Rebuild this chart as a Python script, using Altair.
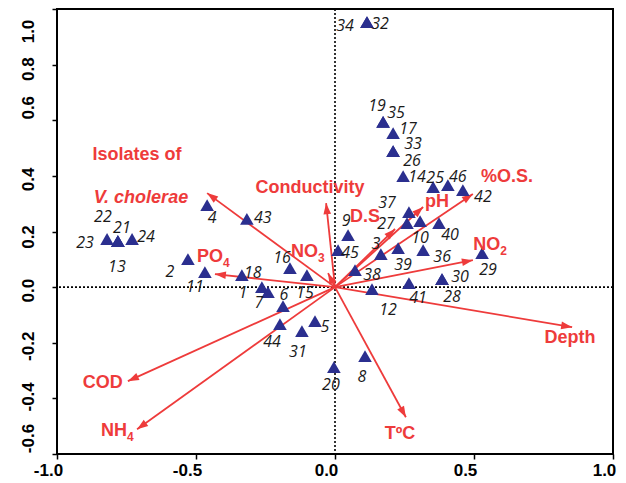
import altair as alt
import pandas as pd
import numpy as np

# ---------------- data ----------------
# sample (site) scores: id, axis-1 score, axis-2 score
sample_ids = [str(i) for i in range(1, 47)]
sample_x = [-0.263, -0.529, 0.165, -0.460, -0.072, -0.187, -0.241, 0.108, 0.047, 0.306,
            -0.468, 0.133, -0.781, 0.245, -0.101, -0.162, 0.209, -0.335, 0.173, -0.004,
            -0.781, -0.781, -0.820, -0.730, 0.353, 0.209, 0.259, 0.385, 0.529, 0.385,
            -0.119, 0.115, 0.209, 0.115, 0.173, 0.317, 0.266, 0.072, 0.227, 0.374,
            0.266, 0.460, -0.317, -0.198, 0.011, 0.406]
sample_y = [0.000, 0.101, 0.119, 0.295, -0.122, -0.068, -0.018, -0.248, 0.187, 0.237,
            0.054, -0.007, 0.165, 0.399, 0.043, 0.068, 0.554, 0.043, 0.594, -0.288,
            0.165, 0.165, 0.173, 0.173, 0.360, 0.489, 0.230, 0.029, 0.122, 0.029,
            -0.158, 0.953, 0.489, 0.953, 0.594, 0.133, 0.270, 0.061, 0.140, 0.230,
            0.014, 0.349, 0.245, -0.133, 0.133, 0.367]
# label placement of each sample number (pixel offsets from its triangle)
label_dx = [-19, -18, -5, 5, 10, 1, -9, -3, -2, 0,
            -10, 16, -1, 14, -2, -8, 15, 11, -6, -3,
            4, -15, -22, 14, 2, 19, -21, 10, 6, 18,
            -4, 13, 20, -22, 13, 19, -22, 17, 5, 11,
            9, 20, 16, -8, 12, 10]
label_dy = [6, 13, -10, 13, 6, -11, 11, 21, -14, 17,
            15, 21, 26, 1, 18, -10, -4, -2, -16, 18,
            -13, -24, 4, -2, -9, 10, 1, 18, 17, -2,
            21, 2, -7, 4, -9, 7, -9, 5, 17, 12,
            15, 7, -1, 18, 3, -8]

# environmental vectors (arrow tips)
vec_names = ["Isolates", "Conductivity", "NO3", "PO4", "D.S", "pH", "%O.S.",
             "NO2", "Depth", "TºC", "COD", "NH4"]
vec_x = [-0.460, -0.032, -0.025, -0.432, 0.216, 0.317, 0.496, 0.496, 0.853, 0.255, -0.745, -0.712]
vec_y = [0.338, 0.302, 0.050, 0.047, 0.209, 0.288, 0.335, 0.097, -0.144, -0.468, -0.338, -0.511]

# vector label texts and their positions
plain_text = ["Isolates of", "Conductivity", "D.S", "pH", "%O.S.", "Depth", "TºC", "COD"]
plain_x = [-0.712, -0.090, 0.108, 0.367, 0.619, 0.845, 0.234, -0.835]
plain_y = [0.475, 0.356, 0.252, 0.306, 0.396, -0.183, -0.529, -0.345]
italic_text = ["V. cholerae"]
italic_x = [-0.698]
italic_y = [0.320]
formula_base = ["NO", "PO", "NO", "NH"]
formula_sub = ["3", "4", "2", "4"]
formula_x = [-0.061, -0.403, 0.594, -0.748]
formula_y = [0.126, 0.108, 0.151, -0.518]

x_ticks = [-1.0, -0.5, 0.0, 0.5, 1.0]
y_ticks = [-0.6, -0.4, -0.2, 0.0, 0.2, 0.4, 0.6, 0.8, 1.0]
# vertical shift of each y tick label as printed in the picture (px)
y_label_shift = [-16, -2, 3, 3, 5, 3, -13, 4, 22]

# ---------------- layout / style ----------------
W, H = 556, 445
PX = W / 2.0           # pixels per unit
RED = "#EE3B3B"
NAVY = "#2B2F8F"
HEAD = 11              # arrow head length in px

pts = pd.DataFrame({"id": sample_ids, "x": sample_x, "y": sample_y})
labs = pts.copy()
labs["x"] = pts["x"] + np.array(label_dx) / PX
labs["y"] = pts["y"] - np.array(label_dy) / PX

vec = pd.DataFrame({"name": vec_names, "vx": vec_x, "vy": vec_y})
vec["x"] = 0.0
vec["y"] = 0.0
length = np.hypot(vec["vx"], vec["vy"])
vec["angle"] = (np.degrees(np.arctan2(vec["vx"], vec["vy"])) + 360) % 360
heads = pd.DataFrame({
    "x": vec["vx"] - (HEAD / 2 / PX) * vec["vx"] / length,
    "y": vec["vy"] - (HEAD / 2 / PX) * vec["vy"] / length,
    "angle": vec["angle"],
})

plain = pd.DataFrame({"t": plain_text, "x": plain_x, "y": plain_y})
ital = pd.DataFrame({"t": italic_text, "x": italic_x, "y": italic_y})
form = pd.DataFrame({"b": formula_base, "s": formula_sub, "x": formula_x, "y": formula_y})

neg = "datum.value < 0 ? '-' + format(-datum.value, '.1f') : format(datum.value, '.1f')"
y_offset = {
    "condition": [{"test": f"abs(datum.value - ({v})) < 0.01", "value": s}
                  for v, s in zip(y_ticks, y_label_shift)],
    "value": 0,
}
xaxis = alt.Axis(values=x_ticks, labelExpr=neg, title=None, grid=False, domain=False,
                 labelFont="Liberation Sans", labelFontWeight="bold", labelFontSize=17,
                 labelColor="black", tickColor="black", tickSize=5, tickWidth=1.5,
                 labelPadding=3, labelFlush=False, labelOffset=-9)
yaxis = alt.Axis(values=y_ticks, labelExpr=neg, title=None, grid=False, domain=False,
                 labelFont="Liberation Sans", labelFontWeight="bold", labelFontSize=17,
                 labelColor="black", tickColor="black", tickSize=5, tickWidth=1.5,
                 labelAngle=270, labelAlign="center", labelBaseline="alphabetic",
                 labelPadding=19, labelFlush=False, labelOffset=y_offset)
xs = alt.Scale(domain=[-1.0, 1.0], nice=False, zero=False)
ys = alt.Scale(domain=[-0.6, 1.0], nice=False, zero=False)


def X(f="x"):
    return alt.X(f, type="quantitative", scale=xs, axis=xaxis)


def Y(f="y"):
    return alt.Y(f, type="quantitative", scale=ys, axis=yaxis)


zero = pd.DataFrame({"x": [0.0], "y": [0.0]})
zero_v = alt.Chart(zero).mark_rule(color="black", strokeDash=[2, 2], strokeWidth=1.6).encode(x=X())
zero_h = alt.Chart(zero).mark_rule(color="black", strokeDash=[2, 2], strokeWidth=1.6).encode(y=Y())

lines = alt.Chart(vec).mark_rule(color=RED, strokeWidth=1.8).encode(
    x=X(), y=Y(), x2=alt.X2("vx"), y2=alt.Y2("vy"))
arrow = alt.Chart(heads).mark_point(
    shape="M0,-1L-0.7,1L0.7,1Z", size=HEAD * HEAD, filled=True, color=RED, opacity=1
).encode(x=X(), y=Y(), angle=alt.Angle("angle:Q", scale=None))

tri = alt.Chart(pts).mark_point(shape="triangle-up", size=185, filled=True,
                                color=NAVY, opacity=1).encode(x=X(), y=Y())
nums = alt.Chart(labs).mark_text(font="Open Sans", fontStyle="italic", fontSize=16,
                                 color="#1a1a1a", align="center", baseline="middle").encode(
    x=X(), y=Y(), text="id:N")

plain_l = alt.Chart(plain).mark_text(font="Liberation Sans", fontWeight="bold", fontSize=18,
                                     color=RED, align="center", baseline="middle").encode(
    x=X(), y=Y(), text="t:N")
ital_l = alt.Chart(ital).mark_text(font="Liberation Sans", fontWeight="bold", fontStyle="italic",
                                   fontSize=18, color=RED, align="center", baseline="middle").encode(
    x=X(), y=Y(), text="t:N")
base_l = alt.Chart(form).mark_text(font="Liberation Sans", fontWeight="bold", fontSize=18,
                                   color=RED, align="right", baseline="middle").encode(
    x=X(), y=Y(), text="b:N")
sub_l = alt.Chart(form).mark_text(font="Liberation Sans", fontWeight="bold", fontSize=12,
                                  color=RED, align="left", baseline="middle", dx=0, dy=6).encode(
    x=X(), y=Y(), text="s:N")

chart = alt.layer(zero_v, zero_h, lines, arrow, tri, nums, plain_l, ital_l, base_l, sub_l).properties(
    width=W, height=H,
    padding={"left": 57, "top": 9, "right": 13, "bottom": 29},
    autosize=alt.AutoSizeParams(type="none"),
    background="white",
).configure_view(stroke="black", strokeWidth=2)

chart.save("out.html", embed_options={"renderer": "svg", "actions": False})
